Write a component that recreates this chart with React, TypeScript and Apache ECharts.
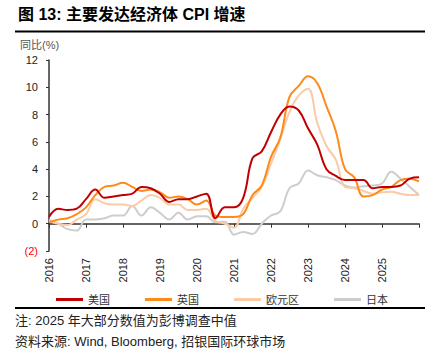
import { useEffect, useRef } from 'react';
import * as echarts from 'echarts';

// Quarterly YoY CPI (%), plotted at quarter end
const PERIODS = [
  '2015Q4',
  '2016Q1', '2016Q2', '2016Q3', '2016Q4',
  '2017Q1', '2017Q2', '2017Q3', '2017Q4',
  '2018Q1', '2018Q2', '2018Q3', '2018Q4',
  '2019Q1', '2019Q2', '2019Q3', '2019Q4',
  '2020Q1', '2020Q2', '2020Q3', '2020Q4',
  '2021Q1', '2021Q2', '2021Q3', '2021Q4',
  '2022Q1', '2022Q2', '2022Q3', '2022Q4',
  '2023Q1', '2023Q2', '2023Q3', '2023Q4',
  '2024Q1', '2024Q2', '2024Q3', '2024Q4',
  '2025Q1', '2025Q2', '2025Q3', '2025Q4',
];
const US = [
  0.5,
  1.1, 1.0, 1.1, 1.8,
  2.5, 1.9, 2.0, 2.1,
  2.2, 2.7, 2.6, 2.2,
  1.6, 1.8, 1.8, 2.0,
  2.2, 0.4, 1.2, 1.2,
  1.9, 4.8, 5.3, 6.7,
  8.0, 8.6, 8.3, 7.0,
  5.8, 4.0, 3.5, 3.2,
  3.2, 3.2, 2.6, 2.7,
  2.7, 2.8, 3.3, 3.4,
];
const UK = [
  0.1,
  0.3, 0.4, 0.7, 1.2,
  2.1, 2.7, 2.8, 3.0,
  2.7, 2.4, 2.5, 2.3,
  1.9, 2.0, 1.8, 1.4,
  1.7, 0.6, 0.5, 0.5,
  0.7, 2.1, 2.8, 4.9,
  6.3, 9.3, 10.1, 10.8,
  10.3, 8.6, 6.8, 4.0,
  3.4, 2.0, 2.1, 2.5,
  2.7, 3.2, 3.3, 3.1,
];
const EURO = [
  0.2,
  0.0, -0.1, 0.3, 0.7,
  1.8, 1.5, 1.4, 1.4,
  1.3, 1.7, 2.1, 1.9,
  1.4, 1.4, 1.0, 1.0,
  1.1, 0.2, 0.0, -0.3,
  1.1, 1.9, 2.7, 4.4,
  6.2, 8.2, 9.4, 9.9,
  7.4, 5.7, 4.7, 2.7,
  2.6, 2.4, 2.2, 2.3,
  2.35, 2.2, 2.1, 2.1,
];
const JAPAN = [
  0.3,
  0.0, -0.4, -0.5, 0.3,
  0.3, 0.4, 0.6, 0.6,
  1.3, 0.6, 1.2, 0.8,
  0.3, 0.8, 0.3, 0.55,
  0.55, 0.1, 0.15, -0.8,
  -0.6, -0.75, 0.0, 0.6,
  0.9, 2.6, 2.95, 3.9,
  3.55, 3.4, 3.2, 2.8,
  2.65, 2.75, 2.8, 2.95,
  3.8, 3.3, 2.7, 2.1,
];
const SERIES_NAMES = ['美国', '英国', '欧元区', '日本'];
const SERIES_COLORS = ['#C00000', '#FF8A1A', '#FACBA6', '#CDCDCD'];
const YEAR_MIN = 2016;
const YEAR_MAX = 2026;
const Y_MIN = -2;
const Y_MAX = 12;

const CJK = '"Liberation Sans", "Noto Sans CJK SC", sans-serif';

function periodToX(p: string): number {
  const y = Number(p.slice(0, 4));
  const q = Number(p.slice(5));
  return y + q / 4;
}

export default function App() {
  const ref = useRef<HTMLDivElement>(null);
  useEffect(() => {
    if (!ref.current) return;
    const chart = echarts.init(ref.current, undefined, { renderer: 'svg' });
    const datasets = [US, UK, EURO, JAPAN];
    const series = datasets
      .map((vals, si) => ({
        name: SERIES_NAMES[si],
        type: 'line',
        xAxisIndex: 0,
        smooth: 0.4,
        showSymbol: false,
        symbol: 'none',
        lineStyle: { width: 2, color: SERIES_COLORS[si] },
        itemStyle: { color: SERIES_COLORS[si] },
        z: 10 - si,
        data: PERIODS.map((p, i) => [periodToX(p), vals[i]]),
      }))
      .reverse();
    chart.setOption({
      animation: false,
      grid: { left: 49, right: 16, top: 60, bottom: 103, containLabel: false },
      legend: {
        data: SERIES_NAMES,
        left: 51,
        top: 289,
        icon: 'rect',
        itemWidth: 27,
        itemHeight: 3,
        itemGap: 35,
        textStyle: { fontFamily: CJK, fontSize: 11, color: '#333' },
      },
      xAxis: [
        {
          type: 'value',
          min: YEAR_MIN,
          max: YEAR_MAX,
          interval: 1,
          axisLine: { show: true, onZero: true, lineStyle: { color: '#333', width: 1.5 } },
          axisTick: { show: true, inside: false, length: 4, lineStyle: { color: '#333', width: 1 } },
          axisLabel: { show: false },
          splitLine: { show: false },
        },
        {
          type: 'value',
          position: 'bottom',
          min: YEAR_MIN,
          max: YEAR_MAX,
          interval: 1,
          axisLine: { show: false, onZero: false },
          axisTick: { show: false },
          splitLine: { show: false },
          axisLabel: {
            show: true,
            rotate: 90,
            margin: 7,
            fontSize: 11,
            fontFamily: CJK,
            color: '#222',
            showMaxLabel: false,
            formatter: (v: number) => (v >= YEAR_MAX ? '' : String(v)),
          },
        },
      ],
      yAxis: {
        type: 'value',
        min: Y_MIN,
        max: Y_MAX,
        interval: 2,
        axisLine: { show: true, lineStyle: { color: '#333', width: 1.5 } },
        axisTick: { show: true, length: 3, lineStyle: { color: '#333' } },
        splitLine: { show: false },
        axisLabel: {
          margin: 11,
          fontSize: 11,
          fontFamily: CJK,
          color: (v: any) => (Number(v) < 0 ? '#FF0000' : '#222'),
          formatter: (v: number) => (v < 0 ? `(${Math.abs(v)})` : String(v)),
        },
      },
      graphic: [
        {
          type: 'text',
          left: 18,
          top: 6,
          style: {
            text: '图 13: 主要发达经济体 CPI 增速',
            fontFamily: CJK,
            fontSize: 16,
            fontWeight: 'bold',
            fill: '#000',
          },
        },
        {
          type: 'line',
          shape: { x1: 15, y1: 31.5, x2: 425, y2: 31.5 },
          style: { stroke: '#000', lineWidth: 2 },
        },
        {
          type: 'text',
          left: 20,
          top: 39,
          style: { text: '同比(%)', fontFamily: CJK, fontSize: 11, fill: '#555' },
        },
        {
          type: 'line',
          shape: { x1: 15, y1: 308, x2: 425, y2: 308 },
          style: { stroke: '#000', lineWidth: 2 },
        },
        {
          type: 'text',
          left: 15,
          top: 314,
          style: {
            text: '注: 2025 年大部分数值为彭博调查中值',
            fontFamily: CJK,
            fontSize: 13,
            fill: '#222',
          },
        },
        {
          type: 'text',
          left: 15,
          top: 335,
          style: {
            text: '资料来源: Wind, Bloomberg, 招银国际环球市场',
            fontFamily: CJK,
            fontSize: 13,
            fill: '#222',
          },
        },
      ],
      series,
    });
    return () => chart.dispose();
  }, []);
  return (
    <div
      ref={ref}
      style={{ position: 'fixed', left: 0, top: 0, width: 435, height: 354, background: '#fff' }}
    />
  );
}
